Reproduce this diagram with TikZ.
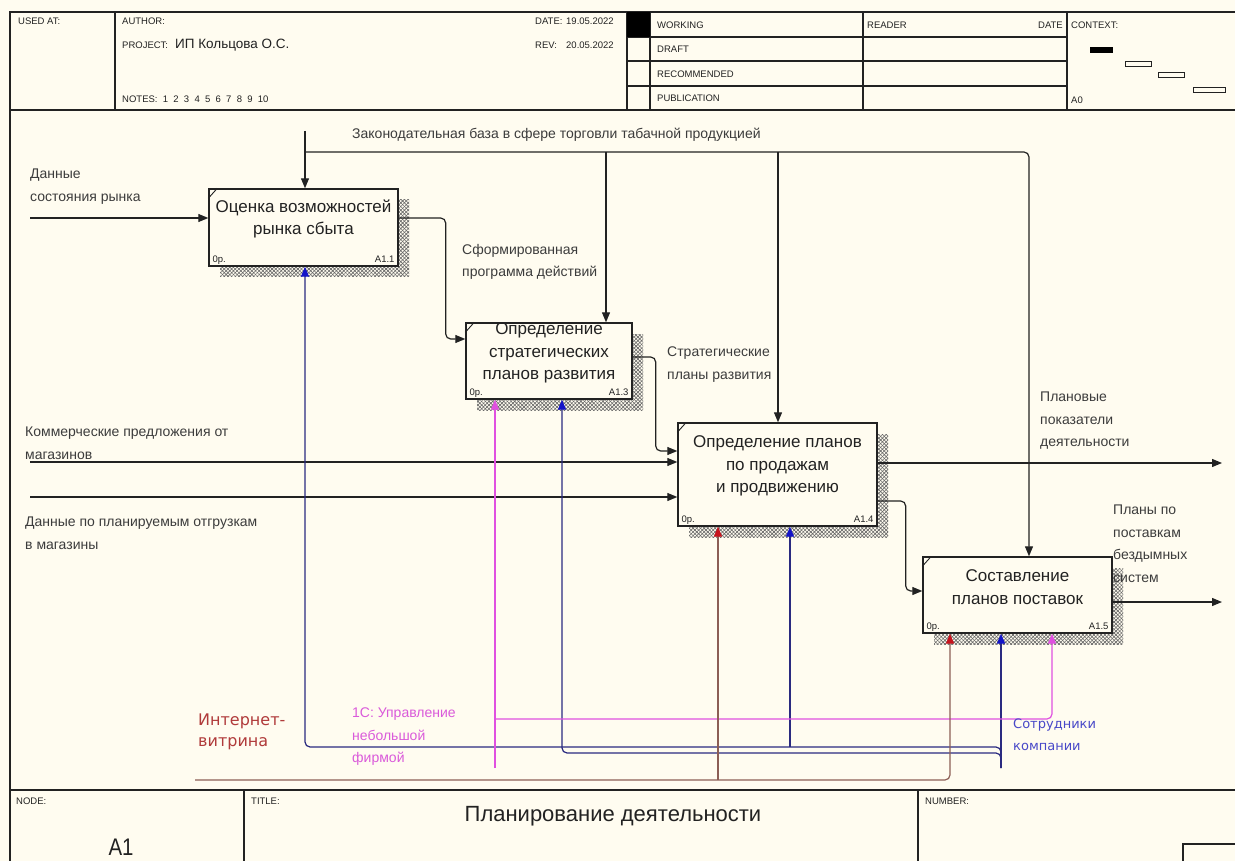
\documentclass[tikz,border=0pt]{standalone}
\usepackage{fontspec}
\setmainfont{Liberation Sans}
\newfontfamily\widefont{DejaVu Sans}
\usetikzlibrary{arrows.meta,patterns.meta}

\definecolor{paper}{HTML}{FFFCF0}
\definecolor{ink}{HTML}{222222}
\definecolor{labelgray}{HTML}{3C3C3C}
\definecolor{lineblue}{HTML}{2A2A80}
\definecolor{tipblue}{HTML}{1414C8}
\definecolor{linepink}{HTML}{E050E0}
\definecolor{linebrown}{HTML}{8C5E55}
\definecolor{tipred}{HTML}{C8141E}
\definecolor{txtred}{HTML}{B03A3A}
\definecolor{txtpink}{HTML}{DA5ADA}
\definecolor{txtblue}{HTML}{4848C8}

\tikzset{
  frameline/.style={draw=ink, line width=1.3pt},
  hairline/.style={draw=ink, line width=1pt},
  hdr/.style={font=\fontsize{9.5}{11}\selectfont, text=ink, inner sep=0pt, anchor=west},
  actbox/.style={draw=ink, line width=1.4pt, fill=paper, inner sep=0pt},
  hatchne/.style={pattern={Lines[angle=45,distance=2.6pt,line width=0.6pt]}, pattern color=black!60},
  hatchnw/.style={pattern={Lines[angle=-45,distance=2.6pt,line width=0.6pt]}, pattern color=black!60},
  boxtitle/.style={font=\fontsize{17}{22.5}\selectfont, align=center, text=ink, inner sep=0pt},
  boxtag/.style={font=\fontsize{9.5}{11}\selectfont, text=ink, inner sep=0pt},
  lbl/.style={font=\fontsize{14}{22.5}\selectfont, align=left, text=labelgray, inner sep=0pt, anchor=north west},
  flow/.style={draw=ink, line width=1.2pt, rounded corners=5pt, -{Triangle[length=10pt,width=8pt]}},
  mechb/.style={draw=lineblue, line width=1.2pt, rounded corners=5pt, -{Triangle[length=10pt,width=8pt,color=tipblue]}},
  mechp/.style={draw=linepink, line width=1.2pt, rounded corners=5pt, -{Triangle[length=10pt,width=8pt,color=linepink]}},
  mechr/.style={draw=linebrown, line width=1.2pt, rounded corners=5pt, -{Triangle[length=10pt,width=8pt,color=tipred]}},
}

\begin{document}
\begin{tikzpicture}[x=1pt,y=-1pt]
\fill[paper] (0,0) rectangle (1235,861);
\useasboundingbox (0,0) rectangle (1235,861);

% ---------- frame and header ----------
\draw[frameline] (10,861) -- (10,12) -- (1235,12);
\draw[frameline] (10,110) -- (1235,110);
\draw[frameline] (10,790) -- (1235,790);
\foreach \x in {115,627,650,863,1067} \draw[frameline] (\x,12) -- (\x,110);
\foreach \y in {37,61,86} \draw[frameline] (627,\y) -- (1067,\y);
\fill[black] (627,12) rectangle (650,37);

\node[hdr] (usedat) at (18,21) {USED AT:};
\node[hdr] (author) at (122,21) {AUTHOR:};
\node[hdr] (project) at (122,45) {PROJECT:};
\node[hdr, font=\fontsize{13.5}{15}\selectfont] (projname) at (175,45) {ИП Кольцова О.С.};
\node[hdr] (notes) at (122,99) {NOTES:\ \ 1\ \ 2\ \ 3\ \ 4\ \ 5\ \ 6\ \ 7\ \ 8\ \ 9\ \ 10};
\node[hdr] (datek) at (535,21) {DATE:};
\node[hdr] (datev) at (566,21) {19.05.2022};
\node[hdr] (revk) at (535,45) {REV:};
\node[hdr] (revv) at (566,45) {20.05.2022};
\node[hdr] (working) at (657,25) {WORKING};
\node[hdr] (draft) at (657,49) {DRAFT};
\node[hdr] (recom) at (657,74) {RECOMMENDED};
\node[hdr] (publ) at (657,98) {PUBLICATION};
\node[hdr] (reader) at (867,25) {READER};
\node[hdr, anchor=east] (rdate) at (1063,25) {DATE};
\node[hdr] (context) at (1071,25) {CONTEXT:};
\node[hdr] (ctxnode) at (1071,100) {A0};
\fill[black] (1090,47) rectangle (1113,53);
\draw[hairline] (1125,62) rectangle (1151,67);
\draw[hairline] (1158,73) rectangle (1184,78);
\draw[hairline] (1193,88) rectangle (1225,93);

% ---------- footer ----------
\draw[frameline] (244,790) -- (244,861);
\draw[frameline] (918,790) -- (918,861);
\draw[frameline] (1183,861) -- (1183,844) -- (1235,844);
\node[hdr] (nodek) at (16,801) {NODE:};
\node[hdr] (titlek) at (251,801) {TITLE:};
\node[hdr] (numberk) at (925,801) {NUMBER:};
\node[inner sep=0pt, font=\fontsize{24}{26}\selectfont, text=ink, xscale=0.85] (nodev) at (121,847) {A1};
\node[inner sep=0pt, font=\fontsize{22}{24}\selectfont, text=ink] (titlev) at (613,816) {Планирование деятельности};

% ---------- activity boxes with hatched shadows ----------
\foreach \sx/\sy/\ex/\ey in {220/200/409/277, 477/334/643/410, 689/434/888/537, 934/568/1123/644} {
  \fill[hatchne] (\sx,\sy) rectangle (\ex,\ey);
  \fill[hatchnw] (\sx,\sy) rectangle (\ex,\ey);
}

\node[actbox, minimum width=189pt, minimum height=77pt] (a11) at (303.5,227.5) {};
\node[actbox, minimum width=166pt, minimum height=76pt] (a13) at (549,361) {};
\node[actbox, minimum width=199pt, minimum height=103pt] (a14) at (777.5,474.5) {};
\node[actbox, minimum width=189pt, minimum height=76pt] (a15) at (1017.5,595) {};

\foreach \b in {a11,a13,a14,a15}
  \draw[ink, line width=0.9pt] ([yshift=-10pt]\b.north west) -- ([xshift=9pt]\b.north west);

\node[boxtitle] (t11) at (303.5,219) {Оценка возможностей\\рынка сбыта};
\node[boxtitle] (t13) at (549,353) {Определение\\стратегических\\планов развития};
\node[boxtitle] (t14) at (777.5,466) {Определение планов\\по продажам\\и продвижению};
\node[boxtitle] (t15) at (1017.5,587) {Составление\\планов поставок};

\node[boxtag, anchor=base west] (p11) at ([shift={(4,-4)}]a11.south west) {0р.};
\node[boxtag, anchor=base east] (n11) at ([shift={(-4,-4)}]a11.south east) {A1.1};
\node[boxtag, anchor=base west] (p13) at ([shift={(4,-4)}]a13.south west) {0р.};
\node[boxtag, anchor=base east] (n13) at ([shift={(-4,-4)}]a13.south east) {A1.3};
\node[boxtag, anchor=base west] (p14) at ([shift={(4,-4)}]a14.south west) {0р.};
\node[boxtag, anchor=base east] (n14) at ([shift={(-4,-4)}]a14.south east) {A1.4};
\node[boxtag, anchor=base west] (p15) at ([shift={(4,-4)}]a15.south west) {0р.};
\node[boxtag, anchor=base east] (n15) at ([shift={(-4,-4)}]a15.south east) {A1.5};

% ---------- controls ----------
\coordinate (ctl) at (305,131);
\coordinate (ctlj) at (305,152);
\coordinate (c13) at (606,152);
\coordinate (c14) at (778,152);
\coordinate (c15) at (1029,152);
\draw[flow] (ctl) -- (ctl |- a11.north);
\draw[flow] (ctlj) -- (c15) -- (c15 |- a15.north);
\draw[flow] (c13) -- (c13 |- a13.north);
\draw[flow] (c14) -- (c14 |- a14.north);

% ---------- inputs ----------
\coordinate (i11) at (30,218);
\coordinate (i14a) at (30,462);
\coordinate (i14b) at (30,497);
\draw[flow] (i11) -- (i11 -| a11.west);
\draw[flow] (i14a) -- (i14a -| a14.west);
\draw[flow] (i14b) -- (i14b -| a14.west);

% ---------- flows between activities and outputs ----------
\draw[flow] (a11.east |- i11) -- ++(47,0) |- ([yshift=22pt]a13.west);
\draw[flow] ([yshift=4pt]a13.east) -- ++(23,0) |- ([yshift=23.5pt]a14.west);
\coordinate (out1) at (1222,463);
\coordinate (out2) at (1222,602);
\draw[flow] (out1 -| a14.east) -- (out1);
\draw[flow] ([yshift=-26.5pt]a14.east) -- ++(28,0) |- ([yshift=4pt]a15.west);
\draw[flow] (out2 -| a15.east) -- (out2);

% ---------- mechanisms ----------
\coordinate (mb) at (1001,768);
\coordinate (mb1) at (305,747);
\coordinate (mb2) at (562,753);
\coordinate (mb3) at (790,747);
\draw[mechb] (mb) -- (mb |- a15.south);
\draw[mechb] (mb) -- (mb |- mb1) -- (mb1) -- (mb1 |- a11.south);
\draw[mechb] (mb) -- (mb |- mb2) -- (mb2) -- (mb2 |- a13.south);
\draw[mechb] (mb3) -- (mb3 |- a14.south);

\coordinate (mp) at (495,768);
\coordinate (mpj) at (495,719);
\coordinate (mp5) at (1052,719);
\draw[mechp] (mp) -- (mp |- a13.south);
\draw[mechp] (mpj) -- (mp5) -- (mp5 |- a15.south);

\coordinate (mr) at (195,780);
\coordinate (mr4) at (718,780);
\coordinate (mr5) at (950,780);
\draw[mechr] (mr) -- (mr5) -- (mr5 |- a15.south);
\draw[mechr] (mr4) -- (mr4 |- a14.south);

% ---------- arrow labels ----------
\node[lbl] (lin1) at (30,169) {Данные\\состояния рынка};
\node[lbl] (lctl) at (352,128) {Законодательная база в сфере торговли табачной продукцией};
\node[lbl] (lo11) at (462,244) {Сформированная\\программа действий};
\node[lbl] (lo13) at (667,347) {Стратегические\\планы развития};
\node[lbl] (lin2) at (25,427) {Коммерческие предложения от\\магазинов};
\node[lbl] (lin3) at (25,517) {Данные по планируемым отгрузкам\\в магазины};
\node[lbl] (lout1) at (1040,392) {Плановые\\показатели\\деятельности};
\node[lbl] (lout2) at (1113,505) {Планы по\\поставкам\\бездымных\\систем};
\node[lbl, font=\widefont\fontsize{16}{21}\selectfont, text=txtred] (lmr) at (198,714) {Интернет-\\витрина};
\node[lbl, text=txtpink] (lmp) at (352,708) {1С: Управление\\небольшой\\фирмой};
\node[lbl, font=\widefont\fontsize{13}{22}\selectfont, text=txtblue] (lmb) at (1013,719) {Сотрудники\\компании};
\end{tikzpicture}
\end{document}
